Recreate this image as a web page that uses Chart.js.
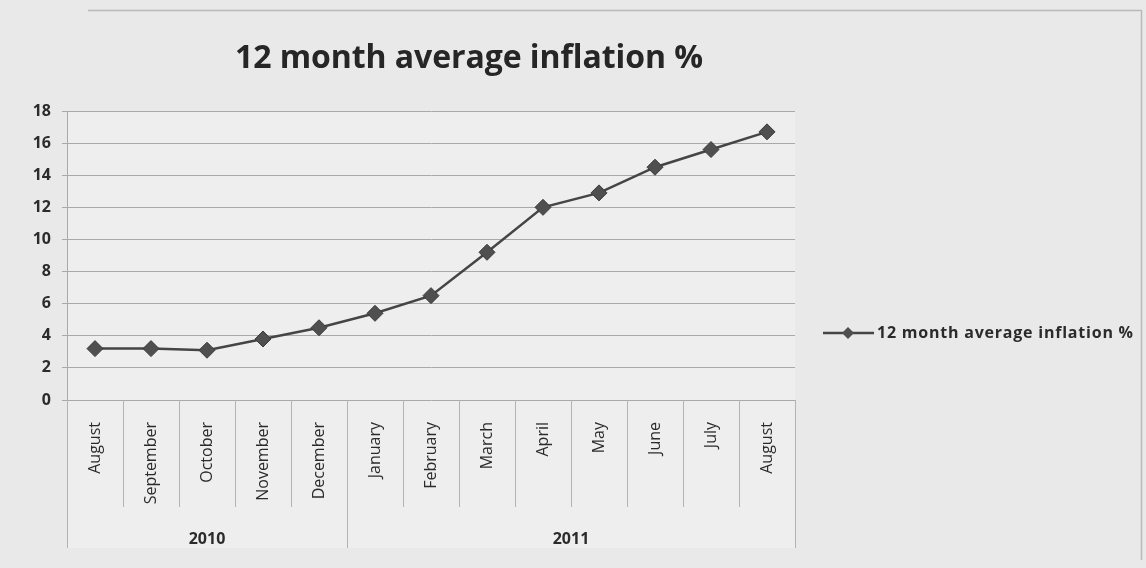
<!DOCTYPE html>
<html>
<head>
<meta charset="utf-8">
<title>12 month average inflation %</title>
<script src="https://cdn.jsdelivr.net/npm/chart.js@4.4.1/dist/chart.umd.min.js"></script>
<style>
    html, body { margin: 0; padding: 0; background: #e9e9e9; }
    #inflationChart { display: block; }
</style>
</head>
<body>
<canvas id="inflationChart" width="1146" height="568"></canvas>
<script>
// Chart data
const months = ['August', 'September', 'October', 'November', 'December', 'January',
    'February', 'March', 'April', 'May', 'June', 'July', 'August'];
const years = ['2010', '2011'];
const monthsPerYear = [5, 8];
const inflation = [3.2, 3.2, 3.1, 3.8, 4.5, 5.4, 6.5, 9.2, 12.0, 12.9, 14.5, 15.6, 16.7];
const yTicks = [0, 2, 4, 6, 8, 10, 12, 14, 16, 18];

const seriesLabel = '12 month average inflation %';
const chartTitle = '12 month average inflation %';

const lineColor = '#454545';
const markerColor = '#4f4f4f';
const gridColor = '#a9a9a9';
const textColor = '#2b2b2b';

Chart.defaults.font.family = "'Open Sans', 'DejaVu Sans', sans-serif";
Chart.defaults.color = textColor;

// Fit a string to a given pixel width by nudging letter spacing
function fitText(ctx, text, width) {
    ctx.letterSpacing = '0px';
    const natural = ctx.measureText(text).width;
    const extra = (width - natural) / Math.max(text.length - 1, 1);
    ctx.letterSpacing = extra.toFixed(2) + 'px';
}

// Backgrounds, frame and title
const backdrop = {
    id: 'backdrop',
    beforeDraw(chart) {
        const { ctx, chartArea, width, height } = chart;
        ctx.save();
        ctx.fillStyle = '#e9e9e9';
        ctx.fillRect(0, 0, width, height);
        ctx.fillStyle = '#eeeeee';
        ctx.fillRect(chartArea.left, chartArea.top, chartArea.right - chartArea.left,
            chartArea.bottom - chartArea.top + 148);

        // outer frame
        ctx.strokeStyle = '#b9b9b9';
        ctx.lineWidth = 1.5;
        ctx.beginPath();
        ctx.moveTo(88, 10.5);
        ctx.lineTo(1141.5, 10.5);
        ctx.lineTo(1141.5, 560);
        ctx.stroke();

        // title
        ctx.fillStyle = '#262626';
        ctx.font = "bold 32px 'Open Sans', sans-serif";
        ctx.textBaseline = 'alphabetic';
        ctx.textAlign = 'left';
        fitText(ctx, chartTitle, 468);
        ctx.fillText(chartTitle, 235, 68);
        ctx.restore();
    }
};

// Month dividers, year tier and legend
const categoryTiers = {
    id: 'categoryTiers',
    afterDraw(chart) {
        const { ctx, chartArea } = chart;
        const x = chart.scales.x;
        const half = (x.getPixelForValue(1) - x.getPixelForValue(0)) / 2;
        const monthBottom = chartArea.bottom + 107;
        const yearBottom = chartArea.bottom + 148;

        // index where each year starts
        const yearEdges = [0];
        monthsPerYear.forEach(n => yearEdges.push(yearEdges[yearEdges.length - 1] + n));

        ctx.save();
        ctx.strokeStyle = '#b3b3b3';
        ctx.lineWidth = 1;
        for (let i = 0; i <= months.length; i++) {
            const px = i < months.length
                ? x.getPixelForValue(i) - half
                : x.getPixelForValue(months.length - 1) + half;
            const bottom = yearEdges.includes(i) ? yearBottom : monthBottom;
            ctx.beginPath();
            ctx.moveTo(Math.round(px) + 0.5, chartArea.bottom);
            ctx.lineTo(Math.round(px) + 0.5, bottom);
            ctx.stroke();
        }

        // year labels centred under their months
        ctx.fillStyle = textColor;
        ctx.font = "bold 16px 'Open Sans', sans-serif";
        ctx.textAlign = 'center';
        ctx.textBaseline = 'middle';
        years.forEach((year, k) => {
            const first = x.getPixelForValue(yearEdges[k]) - half;
            const last = x.getPixelForValue(yearEdges[k + 1] - 1) + half;
            ctx.fillText(year, (first + last) / 2, chartArea.bottom + 139);
        });

        // legend
        const ly = 333;
        ctx.strokeStyle = lineColor;
        ctx.lineWidth = 2.5;
        ctx.beginPath();
        ctx.moveTo(823, ly);
        ctx.lineTo(874, ly);
        ctx.stroke();
        ctx.fillStyle = markerColor;
        ctx.beginPath();
        ctx.moveTo(848, ly - 6);
        ctx.lineTo(854, ly);
        ctx.lineTo(848, ly + 6);
        ctx.lineTo(842, ly);
        ctx.closePath();
        ctx.fill();

        ctx.fillStyle = textColor;
        ctx.font = "bold 16px 'Open Sans', sans-serif";
        ctx.textAlign = 'left';
        fitText(ctx, seriesLabel, 256);
        ctx.fillText(seriesLabel, 877, ly);
        ctx.restore();
    }
};

function renderInflationChart() {
    const ctx = document.getElementById('inflationChart');

    new Chart(ctx, {
        type: 'line',
        data: {
            labels: months,
            datasets: [{
                label: seriesLabel,
                data: inflation,
                borderColor: lineColor,
                borderWidth: 2.5,
                tension: 0,
                pointStyle: 'rectRot',
                pointRadius: 8,
                pointHoverRadius: 8,
                pointBackgroundColor: markerColor,
                pointBorderColor: '#3b3b3b',
                pointBorderWidth: 1
            }]
        },
        options: {
            responsive: false,
            animation: false,
            layout: {
                padding: { left: 0, right: 351, top: 111, bottom: 0 }
            },
            plugins: {
                legend: { display: false },
                title: { display: false },
                tooltip: { enabled: false }
            },
            scales: {
                x: {
                    type: 'category',
                    offset: true,
                    afterFit: scale => { scale.height = 168; },
                    grid: { display: false },
                    border: { display: false },
                    ticks: {
                        autoSkip: false,
                        minRotation: 90,
                        maxRotation: 90,
                        padding: 14,
                        color: textColor,
                        font: { size: 16 }
                    }
                },
                y: {
                    min: 0,
                    max: 18,
                    afterFit: scale => { scale.width = 67; },
                    afterBuildTicks: scale => {
                        scale.ticks = yTicks.map(v => ({ value: v }));
                    },
                    grid: {
                        color: gridColor,
                        lineWidth: 1,
                        drawTicks: true,
                        tickLength: 5
                    },
                    border: { color: gridColor, width: 1 },
                    ticks: {
                        padding: 11,
                        color: textColor,
                        font: { size: 16, weight: 'bold' }
                    }
                }
            }
        },
        plugins: [backdrop, categoryTiers]
    });
}

renderInflationChart();
</script>
</body>
</html>
